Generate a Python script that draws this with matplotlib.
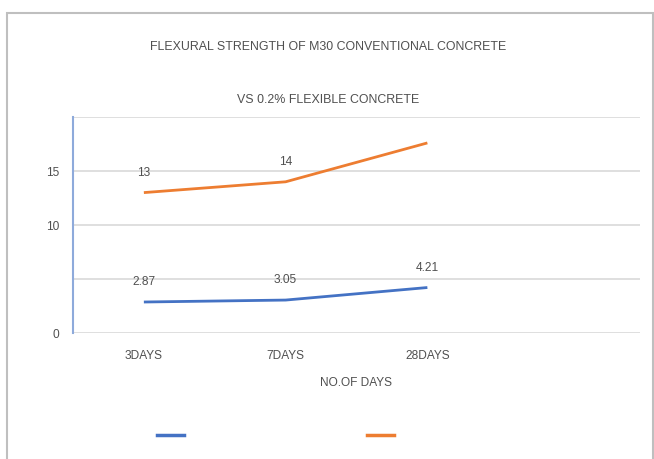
import matplotlib
matplotlib.use("Agg")
import matplotlib.pyplot as plt
from matplotlib.lines import Line2D
from matplotlib.patches import Rectangle

# data
days = ["3DAYS", "7DAYS", "28DAYS", ""]
conventional = [2.87, 3.05, 4.21]
flexible = [13, 14, 17.6]
conv_labels = ["2.87", "3.05", "4.21"]
flex_labels = ["13", "14", ""]
yticks = [0, 5, 10, 15, 20]
ytick_labels = ["0", "", "10", "15", ""]

plt.rcParams["font.family"] = ["Liberation Sans Narrow", "Liberation Sans", "DejaVu Sans"]
txt = "#505050"
fs = 8.6

fig = plt.figure(figsize=(6.54, 4.59), dpi=100)
ax = fig.add_axes([73 / 654, 1 - 333 / 459, 567 / 654, 216 / 459])

x = list(range(len(conventional)))
ax.plot(x, conventional, color="#4472c4", lw=2.0, solid_capstyle="butt")
ax.plot(x, flexible, color="#ed7d31", lw=2.0, solid_capstyle="butt")

for xi, v, s in zip(x, conventional, conv_labels):
    ax.annotate(s, (xi, v), xytext=(0, 10), textcoords="offset points",
                ha="center", va="bottom", fontsize=fs, color=txt)
for xi, v, s in zip(x, flexible, flex_labels):
    ax.annotate(s, (xi, v), xytext=(0, 10), textcoords="offset points",
                ha="center", va="bottom", fontsize=fs, color=txt)

ax.set_xlim(-0.5, len(days) - 0.5)
ax.set_xticks(range(len(days)))
ax.set_xticklabels(days, fontsize=fs, color=txt)
ax.set_ylim(0, 20)
ax.set_yticks(yticks)
ax.set_yticklabels(ytick_labels, fontsize=fs, color=txt)
ax.tick_params(length=0, pad=12)
ax.tick_params(axis="y", pad=10)
ax.grid(axis="y", color="#d9d9d9", lw=1.2)
ax.set_axisbelow(True)
for sp in ["top", "right", "bottom"]:
    ax.spines[sp].set_visible(False)
ax.spines["left"].set_color("#8eaadb")
ax.spines["left"].set_linewidth(1.5)

ax.set_xlabel("NO.OF DAYS", fontsize=fs, color=txt, labelpad=11)

fig.text(0.502, 1 - 47 / 459, "FLEXURAL STRENGTH OF M30 CONVENTIONAL CONCRETE",
         ha="center", va="center", fontsize=8.9, color=txt)
fig.text(0.502, 1 - 100 / 459, "VS 0.2% FLEXIBLE CONCRETE",
         ha="center", va="center", fontsize=8.9, color=txt)

handles = [Line2D([], [], color="#4472c4", lw=2.5),
           Line2D([], [], color="#ed7d31", lw=2.5)]
fig.legend(handles, [" ", " "], ncol=2, frameon=False, fontsize=8,
           handlelength=2.4, columnspacing=15.45,
           loc="center", bbox_to_anchor=(0.4305, 1 - 436 / 459))

fig.patches.append(Rectangle((7 / 654, -0.05), 646 / 654, 1.05 - 13 / 459,
                             transform=fig.transFigure, fill=False,
                             edgecolor="#bfbfbf", lw=1.5))

fig.savefig("out.png", dpi=100)
